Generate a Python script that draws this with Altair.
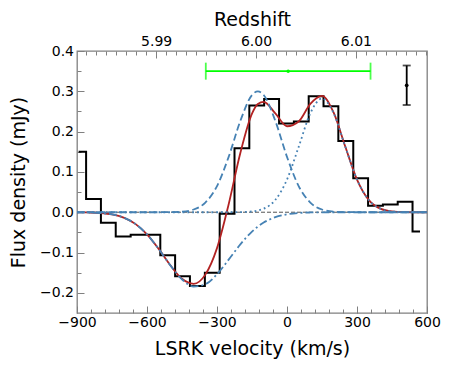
import altair as alt
import pandas as pd

# ---------------- data ----------------
# observed spectrum (bin centres, km/s) and flux density (mJy)
spec_v = [-893, -829, -766, -702, -638, -575, -511, -448, -384, -320, -257, -193,
          -130, -66, -2, 61, 125, 188, 252, 316, 379, 443, 506, 570]
spec_f = [0.150, 0.033, -0.026, -0.060, -0.056, -0.056, -0.107, -0.159, -0.183, -0.150,
          -0.004, 0.159, 0.265, 0.281, 0.220, 0.225, 0.288, 0.263, 0.177, 0.084,
          0.016, 0.019, 0.026, -0.048]

# model curves sampled along velocity
model_v = [-900, -850, -800, -750, -700, -650, -600, -550, -500, -450, -400, -350,
           -300, -250, -200, -150, -125, -100, -50, 0, 50, 100, 150, 200, 250, 300,
           350, 400, 450, 500, 550, 600]
total_f = [-0.0002, -0.0006, -0.0019, -0.0054, -0.0133, -0.0289, -0.0549, -0.0910,
           -0.1315, -0.1652, -0.1775, -0.1548, -0.0890, 0.0198, 0.1470, 0.2446, 0.2686,
           0.2739, 0.2450, 0.2133, 0.2251, 0.2688, 0.2886, 0.2470, 0.1624, 0.0811,
           0.0307, 0.0088, 0.0019, 0.0003, 0.0, 0.0]
comp1_f = [0.0, 0.0, 0.0, 0.0, 0.0, 0.0, 0.0, 0.0, 0.0003, 0.0015, 0.0068, 0.0239,
           0.0649, 0.1374, 0.2265, 0.2908, 0.3000, 0.2908, 0.2265, 0.1374, 0.0649,
           0.0239, 0.0068, 0.0015, 0.0003, 0.0, 0.0, 0.0, 0.0, 0.0, 0.0, 0.0]
comp2_f = [0.0, 0.0, 0.0, 0.0, 0.0, 0.0, 0.0, 0.0, 0.0, 0.0, 0.0, 0.0,
           0.0, 0.0, 0.0003, 0.0019, 0.0043, 0.0088, 0.0307, 0.0811, 0.1621, 0.2455,
           0.2820, 0.2455, 0.1621, 0.0811, 0.0307, 0.0088, 0.0019, 0.0003, 0.0, 0.0]
absorb_f = [-0.0002, -0.0006, -0.0019, -0.0054, -0.0133, -0.0289, -0.0549, -0.0910,
            -0.1318, -0.1667, -0.1843, -0.1787, -0.1539, -0.1176, -0.0798, -0.0481,
            -0.0357, -0.0257, -0.0122, -0.0052, -0.0019, -0.0006, -0.0002, 0.0, 0.0,
            0.0, 0.0, 0.0, 0.0, 0.0, 0.0, 0.0]

# green horizontal error bar
green_v = [5]
green_lo = [-348]
green_hi = [358]
green_f = [0.35]

# black vertical error bar
err_v = [513]
err_f = [0.315]
err_lo = [0.266]
err_hi = [0.364]

# axis ticks
x_major = [-900, -600, -300, 0, 300, 600]
x_minor = list(range(-900, 601, 60))
y_major = [-0.2, -0.1, 0.0, 0.1, 0.2, 0.3, 0.4]
y_minor = [-0.15, -0.05, 0.05, 0.15, 0.25, 0.35]
z_major = [5.99, 6.00, 6.01]
z_minor = [round(5.983 + 0.001 * i, 3) for i in range(35)]

Z0 = 6.0031
C_KMS = 299792.458
K = (1 + Z0) / C_KMS


def z_to_v(z):
    return (z - Z0) / K


XDOM = [-900, 600]
YDOM = [-0.25, 0.4]
W, H = 350, 262
BLUE = "#4682B4"
RED = "#B22222"
GREEN = "#00FF00"


def X(axis=None, field="v"):
    return alt.X(f"{field}:Q", scale=alt.Scale(domain=XDOM, nice=False, zero=False), axis=axis)


def Y(axis=None, field="f"):
    return alt.Y(f"{field}:Q", scale=alt.Scale(domain=YDOM, nice=False, zero=False), axis=axis)


common = dict(domain=False, grid=False, labelFlush=False, labelOverlap=False,
              tickColor="gray", tickWidth=1)

ax_bottom_major = alt.Axis(orient="bottom", values=x_major, format="d",
                           tickSize=alt.ExprRef(expr="-7"), labelPadding=9,
                           title="LSRK velocity (km/s)", titlePadding=10, **common)
ax_bottom_minor = alt.Axis(orient="bottom", values=x_minor, labels=False,
                           tickSize=alt.ExprRef(expr="-4"), title=None, **common)
ax_left_major = alt.Axis(orient="left", values=y_major, format=".1f",
                         tickSize=alt.ExprRef(expr="-7"), labelPadding=10.5,
                         title="Flux density (mJy)", titlePadding=11, **common)
ax_left_minor = alt.Axis(orient="left", values=y_minor, labels=False,
                         tickSize=alt.ExprRef(expr="-4"), title=None, **common)
ax_top_major = alt.Axis(orient="top", values=[z_to_v(z) for z in z_major],
                        labelExpr=f"format({Z0} + datum.value * {K!r}, '.2f')",
                        tickSize=alt.ExprRef(expr="-7"), labelPadding=10,
                        title="Redshift", titlePadding=5, **common)
ax_top_minor = alt.Axis(orient="top",
                        values=[z_to_v(z) for z in z_minor if XDOM[0] <= z_to_v(z) <= XDOM[1]],
                        labels=False, tickSize=alt.ExprRef(expr="-4"), title=None, **common)

hist_df = pd.DataFrame({"v": spec_v, "f": spec_f})
total_df = pd.DataFrame({"v": model_v, "f": total_f})
c1_df = pd.DataFrame({"v": model_v, "f": comp1_f})
c2_df = pd.DataFrame({"v": model_v, "f": comp2_f})
ab_df = pd.DataFrame({"v": model_v, "f": absorb_f})

zero = alt.Chart(pd.DataFrame({"f": [0.0]})).mark_rule(
    color="#555555", strokeDash=[4, 2], strokeWidth=1).encode(y=Y())

hist = alt.Chart(hist_df).mark_line(
    interpolate="step", color="black", strokeWidth=2, clip=True).encode(
    x=X(ax_bottom_major), y=Y(ax_left_major))

red = alt.Chart(total_df).mark_line(
    interpolate="monotone", color=RED, strokeWidth=1.8, clip=True).encode(
    x=X(ax_bottom_minor), y=Y(ax_left_minor))

dashed = alt.Chart(c1_df).mark_line(
    interpolate="monotone", color=BLUE, strokeWidth=1.8, strokeDash=[7, 3.5], clip=True).encode(
    x=X(ax_top_major), y=Y())

dotted = alt.Chart(c2_df).mark_line(
    interpolate="monotone", color=BLUE, strokeWidth=1.8, strokeDash=[1.8, 3], clip=True).encode(
    x=X(ax_top_minor), y=Y())

dashdot = alt.Chart(ab_df).mark_line(
    interpolate="monotone", color=BLUE, strokeWidth=1.8, strokeDash=[8, 3, 2, 3], clip=True).encode(
    x=X(), y=Y())

g_df = pd.DataFrame({"v": green_v, "lo": green_lo, "hi": green_hi, "f": green_f})
g_bar = alt.Chart(g_df).mark_rule(color=GREEN, strokeWidth=1.8).encode(
    x=X(field="lo"), x2="hi:Q", y=Y())
g_caps = alt.Chart(pd.DataFrame({"v": green_lo + green_hi, "f": green_f * 2})).mark_tick(
    orient="vertical", color=GREEN, size=17, thickness=1.8).encode(x=X(), y=Y())
g_pt = alt.Chart(g_df).mark_point(filled=True, color=GREEN, size=12, opacity=1).encode(
    x=X(), y=Y())

e_df = pd.DataFrame({"v": err_v, "f": err_f, "lo": err_lo, "hi": err_hi})
e_bar = alt.Chart(e_df).mark_rule(color="black", strokeWidth=1.8).encode(
    x=X(), y=Y(field="lo"), y2="hi:Q")
e_caps = alt.Chart(pd.DataFrame({"v": err_v * 2, "f": err_lo + err_hi})).mark_tick(
    orient="horizontal", color="black", size=8, thickness=1.8).encode(x=X(), y=Y())
e_pt = alt.Chart(e_df).mark_point(filled=True, color="black", size=14, opacity=1).encode(
    x=X(), y=Y())

chart = alt.layer(
    zero, hist, red, dashed, dotted, dashdot, g_bar, g_caps, g_pt, e_bar, e_caps, e_pt
).resolve_axis(
    x="independent", y="independent"
).properties(
    width=W, height=H,
    autosize=alt.AutoSizeParams(type="none"),
    padding={"left": 69, "top": 43, "right": 14, "bottom": 46},
).configure_view(
    stroke="gray", strokeWidth=1.3
).configure_axis(
    labelFont="DejaVu Sans", titleFont="DejaVu Sans",
    labelFontSize=14, titleFontSize=19, titleFontWeight="normal",
    labelColor="black", titleColor="black",
)

chart.save("out.html", embed_options={"renderer": "svg", "actions": False})
